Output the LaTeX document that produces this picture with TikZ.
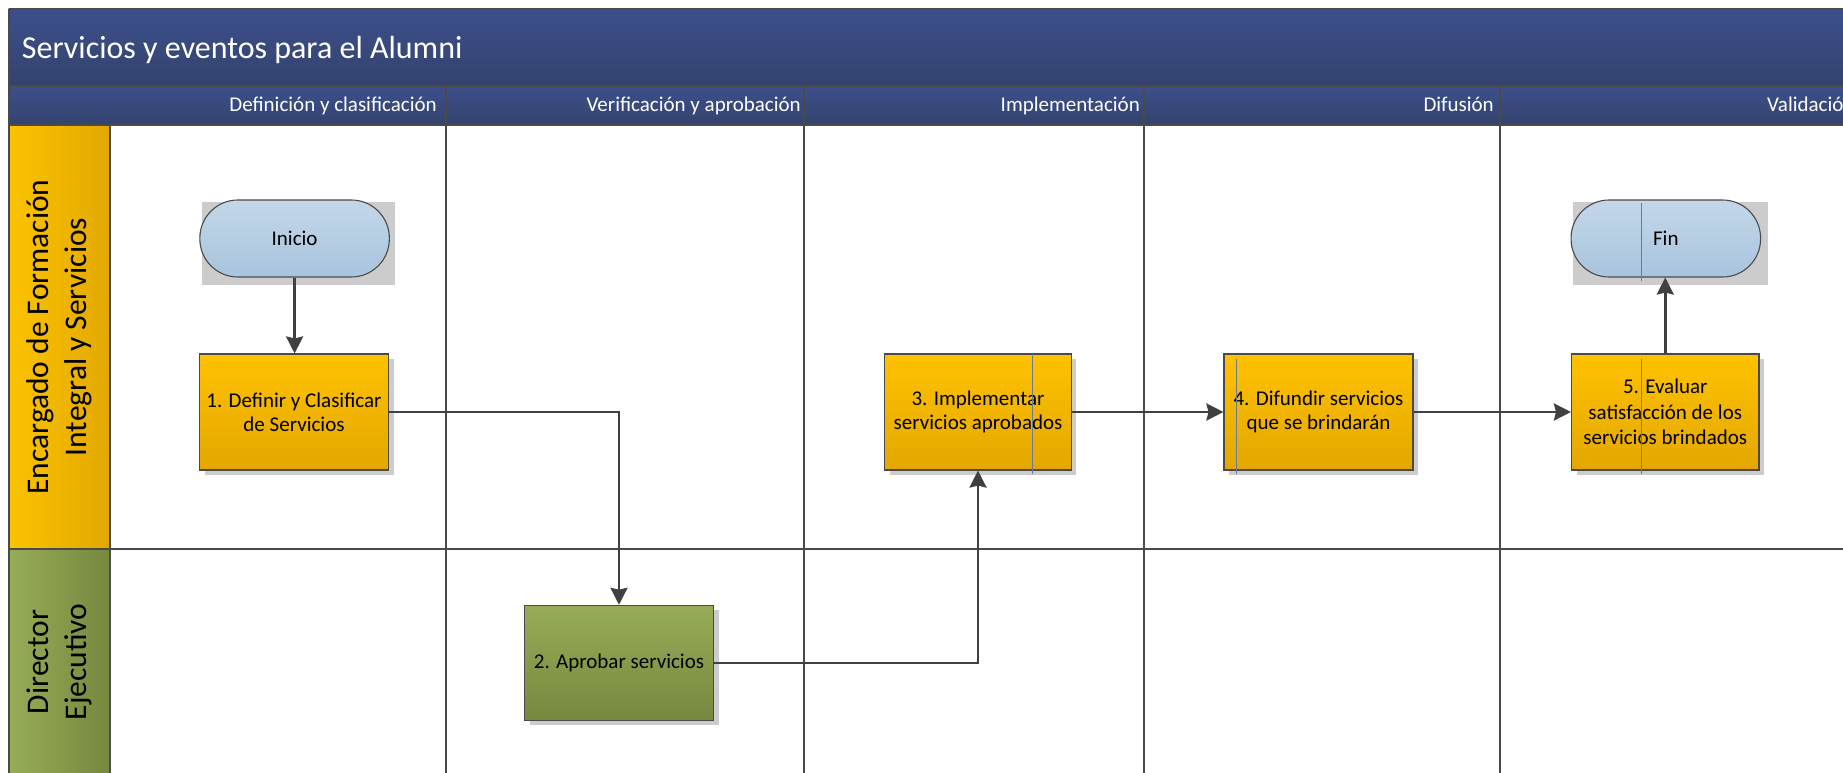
\documentclass[tikz,border=0pt]{standalone}
\usepackage{fontspec}
\setmainfont{Carlito}
\usetikzlibrary{arrows.meta,shadows}
\definecolor{bandtop}{HTML}{3D4F8C}
\definecolor{bandbot}{HTML}{33436D}
\definecolor{gridc}{HTML}{4A4A4A}
\definecolor{ortop}{HTML}{FFC200}
\definecolor{orbot}{HTML}{E3A700}
\definecolor{lanetop}{HTML}{FCC300}
\definecolor{lanebot}{HTML}{E2A800}
\definecolor{grtop}{HTML}{97AC57}
\definecolor{grbot}{HTML}{76883F}
\definecolor{bltop}{HTML}{C4D7E9}
\definecolor{blbot}{HTML}{A8C4DE}
\definecolor{shadowc}{HTML}{CCCCCC}
\definecolor{conc}{HTML}{404040}
\definecolor{thinc}{HTML}{6B7A99}
\begin{document}
\begin{tikzpicture}[x=1pt,y=-1pt,
  boxshadow/.style={general shadow={shadow xshift=5pt, shadow yshift=-5pt, fill=shadowc}},
  procbox/.style={draw=gridc, line width=1.1pt, minimum width=189pt, minimum height=116pt,
    align=center, inner sep=0pt, font=\fontsize{21}{24}\selectfont,
    top color=ortop, bottom color=orbot, boxshadow},
  greenbox/.style={procbox, top color=grtop, bottom color=grbot},
  terminal/.style={draw=gridc, line width=1.1pt, minimum width=189.5pt, minimum height=77pt,
    rounded corners=38pt, inner sep=0pt, font=\fontsize{21}{24}\selectfont,
    top color=bltop, bottom color=blbot},
  phase/.style={text=white, inner sep=0pt, font=\fontsize{21}{24}\selectfont},
  lanetext/.style={rotate=90, align=center, inner sep=0pt, font=\fontsize{31.5}{38}\selectfont},
  grid/.style={draw=gridc, line width=2pt},
  conn/.style={draw=conc, line width=2.6pt, -{Stealth[length=17pt,width=17pt,inset=2pt]}},
  thin/.style={draw=thinc, line width=0.8pt}
]
\useasboundingbox (0,0) rectangle (1843,773);
\clip (0,0) rectangle (1843,773);
\fill[white] (0,0) rectangle (1843,773);
% bands
\shade[top color=bandtop, bottom color=bandbot] (8.7,9) rectangle (1900,86);
\shade[top color=bandtop, bottom color=bandbot] (8.7,86) rectangle (1900,125);
% lane label areas
\shade[left color=lanetop, right color=lanebot] (8.7,125) rectangle (109.5,549.3);
\shade[left color=grtop, right color=grbot] (8.7,549.3) rectangle (109.5,800);
% grid lines
\draw[grid] (8.7,9) -- (1900,9);
\draw[grid] (8.7,86) -- (1900,86);
\draw[grid] (8.7,125) -- (1900,125);
\draw[grid] (8.7,549.3) -- (1900,549.3);
\draw[grid] (8.7,9) -- (8.7,800);
\draw[grid] (109.5,125) -- (109.5,800);
\foreach \xx in {445.6,804,1144,1500} {\draw[grid] (\xx,86) -- (\xx,800);}
% texts
\node[anchor=base west, text=white, inner sep=0pt, font=\fontsize{32}{38}\selectfont] (title) at (21.7,58.3) {Servicios y eventos para el Alumni};
\node[phase, anchor=base east] (ph1) at (437,111.7) {Definición y clasificación};
\node[phase, anchor=base east] (ph2) at (801,111.7) {Verificación y aprobación};
\node[phase, anchor=base east] (ph3) at (1140,111.7) {Implementación};
\node[phase, anchor=base east] (ph4) at (1494,111.7) {Difusión};
\node[phase, anchor=base west] (ph5) at (1767,111.7) {Validación};
\node[lanetext] (lane1) at (59,337) {Encargado de Formación\\Integral y Servicios};
\node[lanetext] (lane2) at (59,662) {Director\\Ejecutivo};
% terminal backgrounds
\fill[shadowc] (202,202) rectangle (395,285);
\fill[shadowc] (1573,202) rectangle (1768,285);
% nodes
\node[terminal] (inicio) at (294.6,238.5) {Inicio};
\node[terminal] (fin) at (1665.8,238.5) {Fin};
\node[procbox] (b1) at (294,412) {1. Definir y Clasificar\\de Servicios};
\node[greenbox, minimum height=115pt] (b2) at (619,662.8) {2. Aprobar servicios};
\node[procbox, minimum width=186.5pt] (b3) at (978,412) {3. Implementar\\servicios aprobados};
\node[procbox] (b4) at (1318.5,412) {4. Difundir servicios\\que se brindarán};
\node[procbox, minimum width=187.5pt, font=\fontsize{21}{25.5}\selectfont] (b5) at (1665.25,412) {5. Evaluar\\satisfacción de los\\servicios brindados};
% thin internal lines
\draw[thin] (1032,354) -- (1032,474);
\draw[thin] (1236,359) -- (1236,474);
\draw[thin] (1641,359) -- (1641,474);
\draw[thin] (1641,203) -- (1641,281);
% connectors
\draw[conn] (inicio.south) -- (inicio.south |- b1.north);
\draw[conn] (b1.east) -| (b2.north);
\draw[conn] (b2.east) -| (b3.south);
\draw[conn] (b3.east) -- (b4.west);
\draw[conn] (b4.east) -- (b5.west);
\draw[conn] (b5.north) -- (b5.north |- fin.south);
\end{tikzpicture}
\end{document}
